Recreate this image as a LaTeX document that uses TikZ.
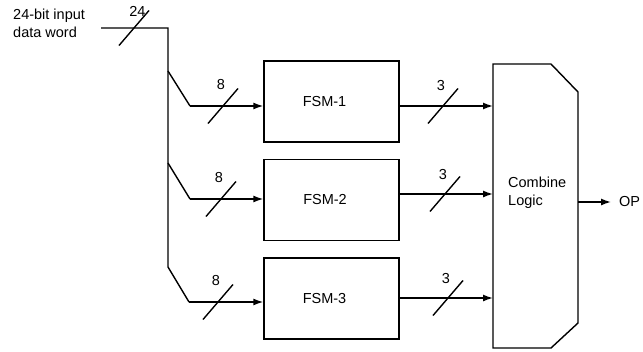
\documentclass[tikz,border=0pt]{standalone}
\usepackage{fontspec}
\setmainfont{Liberation Sans}
\usetikzlibrary{arrows.meta,calc}
\begin{document}
\begin{tikzpicture}[x=1pt,y=-1pt,
  wire/.style={line width=1.4pt,line join=miter},
  arr/.style={wire,-{Latex[length=10pt,width=7pt]}},
  slash/.style={line width=1.4pt},
  box/.style={draw,line width=1.4pt,minimum width=135pt,minimum height=81pt,inner sep=0pt},
  txt/.style={inner sep=0pt,font=\fontsize{14.5}{18}\selectfont},
  lbl/.style={inner sep=0pt,font=\fontsize{14.5}{18}\selectfont}]
\useasboundingbox (0,0) rectangle (643,351);
% input text
\node[txt,anchor=west,align=left] (intxt) at (13,23) {24-bit input\\data word};
% FSM boxes
\node[box] (fsm1) at (331.5,101.5) {};
\node[box] (fsm2) at (331.5,200) {};
\node[box] (fsm3) at (331.5,298.5) {};
\node[txt] (fsm1t) at (324.5,101.5) {FSM-1};
\node[txt] (fsm2t) at (325,200) {FSM-2};
\node[txt] (fsm3t) at (324.5,298.5) {FSM-3};
% combine logic
\coordinate (cA) at (493,64);
\coordinate (cB) at (551,64);
\coordinate (cC) at (578,92);
\coordinate (cD) at (578,323);
\coordinate (cE) at (551,348);
\coordinate (cF) at (493,348);
\draw[wire] (cA) -- (cB) -- (cC) -- (cD) -- (cE) -- (cF) -- cycle;
\node[txt,anchor=west,align=left] (comb) at (508,193) {Combine\\Logic};
% input wiring
\coordinate (in0) at (101,28);
\coordinate (in1) at (168,28);
\coordinate (v1) at (168,71);
\coordinate (v2) at (168,163);
\coordinate (v3) at (168,267);
\coordinate (k1) at (190,106);
\coordinate (k2) at (190,199);
\coordinate (k3) at (189,302);
\draw[wire] (in0) -- (in1) -- (v3) -- (k3);
\draw[arr] (k3) -- (fsm3.west |- k3);
\draw[wire] (v1) -- (k1);
\draw[arr] (k1) -- (fsm1.west |- k1);
\draw[wire] (v2) -- (k2);
\draw[arr] (k2) -- (fsm2.west |- k2);
% outputs
\coordinate (o1) at (399,106);
\coordinate (o2) at (399,194);
\coordinate (o3) at (399,298);
\draw[arr] (o1) -- (cA |- o1);
\draw[arr] (o2) -- (cA |- o2);
\draw[arr] (o3) -- (cA |- o3);
\coordinate (out) at (578,202);
\coordinate (outend) at (611,202);
\node[txt,anchor=west] (op) at (619,202) {OP};
\draw[arr] (out) -- (outend);
% slashes
\foreach \c in {(134,28),(223,106),(221,199),(218,302),(443,106),(445,194),(448,298)}{
  \draw[slash] \c ++(-15,17.5) -- ++(30,-35);
}
\node[lbl] (l24) at (137.5,11) {24};
\node[lbl] (l8a) at (221,84.5) {8};
\node[lbl] (l8b) at (219,177.5) {8};
\node[lbl] (l8c) at (216,280.5) {8};
\node[lbl] (l3a) at (441,86) {3};
\node[lbl] (l3b) at (443,174.5) {3};
\node[lbl] (l3c) at (446,278.5) {3};
\end{tikzpicture}
\end{document}
